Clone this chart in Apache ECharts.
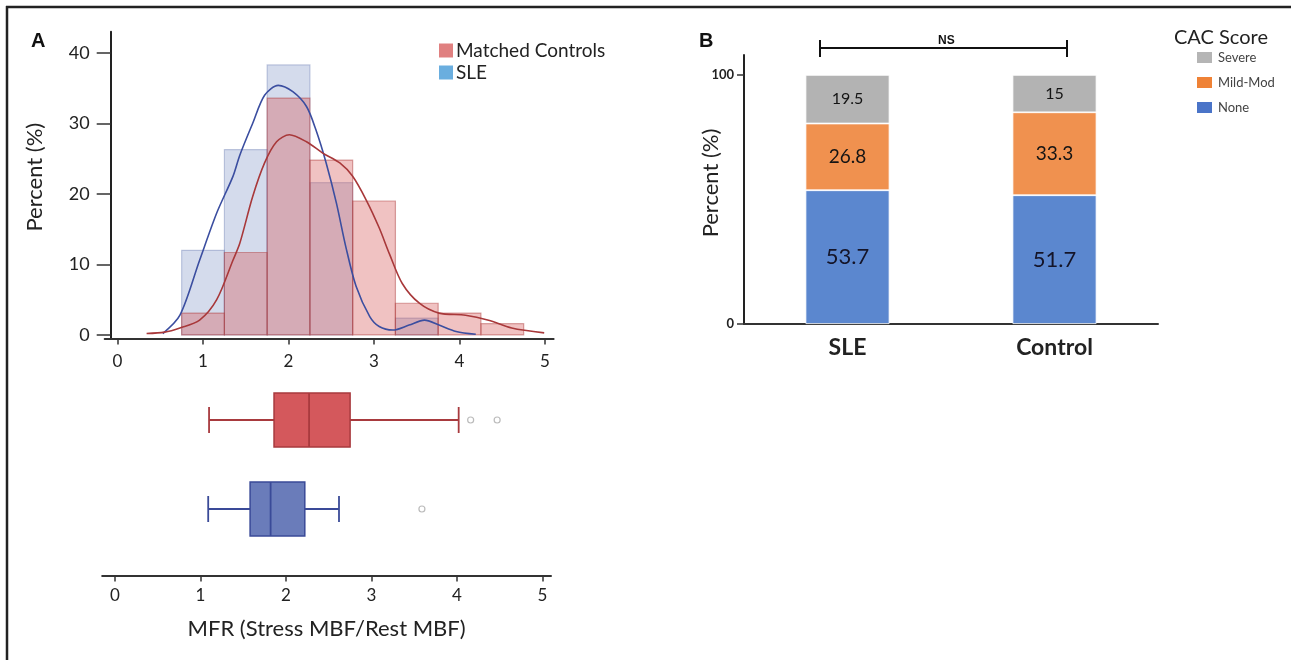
<!DOCTYPE html>
<html><head><meta charset="utf-8">
<script src="https://cdn.jsdelivr.net/npm/echarts@6/dist/echarts.min.js"></script>
<style>html,body{margin:0;padding:0;background:#fff}#c{width:1291px;height:660px}</style>
</head><body><div id="c"></div>
<script>
// ---------- Panel A data ----------
const binCenters = [1, 1.5, 2, 2.5, 3, 3.5, 4, 4.5];
const binWidth = 0.5;
const slePct  = [12.0, 26.3, 38.3, 21.6, 0, 2.4, 0, 0];
const ctrlPct = [3.1, 11.7, 33.6, 24.8, 19.0, 4.5, 3.1, 1.6];
const sleKdeX = [0.53, 0.73, 0.96, 1.16, 1.35, 1.43, 1.58, 1.72, 1.88, 2.05, 2.21, 2.32, 2.44, 2.56, 2.67, 2.79, 2.95, 3.06, 3.22, 3.41, 3.59, 3.76, 3.96, 4.19];
const sleKdeY = [0.2, 2.8, 10.6, 17.3, 22.5, 25.5, 30.0, 34.0, 35.4, 34.5, 32.4, 29.1, 24.4, 18.7, 12.5, 6.9, 2.6, 1.2, 0.7, 1.4, 2.1, 1.4, 0.5, 0.1];
const ctrlKdeX = [0.34, 0.55, 0.73, 0.96, 1.16, 1.35, 1.43, 1.58, 1.72, 1.86, 2.01, 2.21, 2.40, 2.60, 2.75, 2.91, 3.06, 3.18, 3.33, 3.53, 3.76, 4.07, 4.34, 4.61, 4.99];
const ctrlKdeY = [0.2, 0.4, 1.0, 2.1, 5.0, 10.6, 13.0, 19.6, 24.4, 27.4, 28.4, 27.4, 25.8, 24.4, 22.5, 19.1, 15.2, 11.5, 7.3, 4.5, 3.1, 2.8, 2.1, 1.0, 0.3];
const mfrTicks = [0, 1, 2, 3, 4, 5];
const pctTicks = [0, 10, 20, 30, 40];
const boxGroups = ['SLE', 'Matched Controls'];
// [min, Q1, median, Q3, max]
const sleBox  = [1.09, 1.58, 1.82, 2.22, 2.62];
const ctrlBox = [1.10, 1.86, 2.27, 2.75, 4.02];
const sleOutliers  = [3.59];
const ctrlOutliers = [4.16, 4.47];
// ---------- Panel B data ----------
const cacGroups = ['SLE', 'Control'];
const cacNone   = [53.7, 51.7];
const cacMild   = [26.8, 33.3];
const cacSevere = [19.5, 15];
const cacTicks  = [0, 100];

const FONT = 'Lato, "Open Sans", sans-serif';
const chart = echarts.init(document.getElementById('c'));

const histData = (arr) => binCenters.map((c, i) => [c, arr[i]]);
const kde = (xs, ys) => xs.map((x, i) => [x, ys[i]]);

function histRender(fill, stroke) {
  return function (params, api) {
    const c = api.value(0), h = api.value(1);
    if (!(h > 0)) return null;
    const p0 = api.coord([c - binWidth / 2, h]);
    const p1 = api.coord([c + binWidth / 2, 0]);
    return { type: 'rect', shape: { x: p0[0], y: p0[1], width: p1[0] - p0[0], height: p1[1] - p0[1] },
      style: { fill: fill, stroke: stroke, lineWidth: 1.2 } };
  };
}
const boxStyles = [
  { fill: '#6a7cba', stroke: '#3a4a98' },
  { fill: '#d4585c', stroke: '#a83a3e' }
];
function boxRender(params, api) {
  const cat = api.value(0);
  const v = [api.value(1), api.value(2), api.value(3), api.value(4), api.value(5)];
  const p = v.map(x => api.coord([x, cat]));
  const y = p[0][1], hh = 27, cap = 13;
  const st = boxStyles[cat];
  const ls = { stroke: st.stroke, lineWidth: 1.8 };
  return { type: 'group', children: [
    { type: 'line', shape: { x1: p[0][0], y1: y, x2: p[1][0], y2: y }, style: ls },
    { type: 'line', shape: { x1: p[3][0], y1: y, x2: p[4][0], y2: y }, style: ls },
    { type: 'line', shape: { x1: p[0][0], y1: y - cap, x2: p[0][0], y2: y + cap }, style: ls },
    { type: 'line', shape: { x1: p[4][0], y1: y - cap, x2: p[4][0], y2: y + cap }, style: ls },
    { type: 'rect', shape: { x: p[1][0], y: y - hh, width: p[3][0] - p[1][0], height: 2 * hh },
      style: { fill: st.fill, stroke: st.stroke, lineWidth: 1.5 } },
    { type: 'line', shape: { x1: p[2][0], y1: y - hh, x2: p[2][0], y2: y + hh }, style: ls }
  ]};
}

const axisTxt = { color: '#222', fontFamily: FONT };

chart.setOption({
  animation: false,
  textStyle: { fontFamily: FONT },
  title: [
    { text: 'A', left: 26, top: 26, textStyle: { fontSize: 20, fontWeight: 'bold', color: '#111', fontFamily: 'Liberation Sans' } },
    { text: 'B', left: 694, top: 26, textStyle: { fontSize: 20, fontWeight: 'bold', color: '#111', fontFamily: 'Liberation Sans' } },
    { text: 'CAC Score', left: 1169, top: 23, textStyle: { fontSize: 20, fontWeight: 'normal', color: '#222', fontFamily: FONT } },
    { text: 'NS', left: 933, top: 30, textStyle: { fontSize: 12, fontWeight: 'bold', color: '#111', fontFamily: 'Liberation Sans' } }
  ],
  legend: [
    { orient: 'vertical', left: 434, top: 36, itemWidth: 14, itemHeight: 14, itemGap: 3, icon: 'rect',
      textStyle: { fontSize: 19, color: '#222', fontFamily: FONT, padding: [0, 0, 0, -2] },
      data: [{ name: 'Matched Controls', itemStyle: { color: '#e08080' } },
             { name: 'SLE', itemStyle: { color: '#6aaedf' } }] },
    { orient: 'vertical', left: 1190, top: 45, itemWidth: 17, itemHeight: 13, itemGap: 10, icon: 'rect',
      textStyle: { fontSize: 13, color: '#444', fontFamily: FONT },
      data: [{ name: 'Severe', itemStyle: { color: '#b5b5b5' } },
             { name: 'Mild-Mod', itemStyle: { color: '#ef8236' } },
             { name: 'None', itemStyle: { color: '#4a74c8' } }] }
  ],
  grid: [
    { left: 104.7, top: 31.8, width: 448.9, height: 306.7 },
    { left: 102.2, top: 375.5, width: 448.8, height: 178 },
    { left: 744, top: 55, width: 414, height: 269 }
  ],
  xAxis: [
    { gridIndex: 0, type: 'value', min: -0.15, max: 5.1,
      axisLine: { show: true, onZero: false, lineStyle: { color: '#333', width: 2 } },
      axisTick: { show: true, customValues: mfrTicks, length: 6, lineStyle: { color: '#333', width: 1.5 } },
      axisLabel: { customValues: mfrTicks, margin: 15, fontSize: 17, ...axisTxt },
      splitLine: { show: false } },
    { gridIndex: 1, type: 'value', min: -0.15, max: 5.1, offset: 22,
      axisLine: { show: true, onZero: false, lineStyle: { color: '#333', width: 2 } },
      axisTick: { show: true, customValues: mfrTicks, length: 6, lineStyle: { color: '#333', width: 1.5 } },
      axisLabel: { customValues: mfrTicks, margin: 12, fontSize: 17, ...axisTxt },
      splitLine: { show: false },
      name: 'MFR (Stress MBF/Rest MBF)', nameLocation: 'middle', nameGap: 42, nameMoveOverlap: false,
      nameTextStyle: { fontSize: 22, ...axisTxt } },
    { gridIndex: 2, type: 'category', data: cacGroups,
      axisLine: { show: true, lineStyle: { color: '#333', width: 2 } },
      axisTick: { show: false },
      axisLabel: { margin: 12, fontSize: 23, fontWeight: 'bold', ...axisTxt } }
  ],
  yAxis: [
    { gridIndex: 0, type: 'value', min: -0.5, max: 43, offset: -6,
      axisLine: { show: true, onZero: false, lineStyle: { color: '#222', width: 2 } },
      axisTick: { show: true, customValues: pctTicks, length: 14, lineStyle: { color: '#333', width: 1.5 } },
      axisLabel: { customValues: pctTicks, margin: 21, fontSize: 18, ...axisTxt },
      splitLine: { show: false },
      name: 'Percent (%)', nameLocation: 'middle', nameGap: 65, nameMoveOverlap: false,
      nameTextStyle: { fontSize: 22, ...axisTxt, padding: [0, 0, 0, 16] } },
    { gridIndex: 1, type: 'category', data: boxGroups, show: false },
    { gridIndex: 2, type: 'value', min: 0, max: 108,
      axisLine: { show: true, onZero: false, lineStyle: { color: '#222', width: 2 } },
      axisTick: { show: true, customValues: cacTicks, length: 7, lineStyle: { color: '#333', width: 1.5 } },
      axisLabel: { customValues: cacTicks, margin: 10, fontSize: 13, fontWeight: 'bold', ...axisTxt },
      splitLine: { show: false },
      name: 'Percent (%)', nameLocation: 'middle', nameGap: 22, nameMoveOverlap: false,
      nameTextStyle: { fontSize: 22, ...axisTxt, padding: [0, 0, 0, 13] } }
  ],
  series: [
    { name: 'SLE', type: 'custom', xAxisIndex: 0, yAxisIndex: 0, z: 1,
      renderItem: histRender('rgba(100,125,185,0.28)', 'rgba(90,110,170,0.35)'),
      encode: { x: 0, y: 1 }, data: histData(slePct), itemStyle: { color: '#6aaedf' } },
    { name: 'Matched Controls', type: 'custom', xAxisIndex: 0, yAxisIndex: 0, z: 2,
      renderItem: histRender('rgba(215,95,95,0.38)', 'rgba(170,55,55,0.45)'),
      encode: { x: 0, y: 1 }, data: histData(ctrlPct), itemStyle: { color: '#e08080' } },
    { name: 'SLE density', type: 'line', xAxisIndex: 0, yAxisIndex: 0, z: 3, smooth: 0.3,
      showSymbol: false, lineStyle: { color: '#3b4ea0', width: 1.6 }, data: kde(sleKdeX, sleKdeY) },
    { name: 'Controls density', type: 'line', xAxisIndex: 0, yAxisIndex: 0, z: 4, smooth: 0.3,
      showSymbol: false, lineStyle: { color: '#a8383a', width: 1.6 }, data: kde(ctrlKdeX, ctrlKdeY) },
    { name: 'Box', type: 'custom', xAxisIndex: 1, yAxisIndex: 1, renderItem: boxRender,
      encode: { x: [1, 2, 3, 4, 5], y: 0 },
      data: [[0, ...sleBox], [1, ...ctrlBox]] },
    { name: 'Outliers', type: 'scatter', xAxisIndex: 1, yAxisIndex: 1, symbol: 'circle', symbolSize: 6,
      itemStyle: { color: '#fff', borderColor: '#aaa', borderWidth: 1.2 },
      data: [...sleOutliers.map(v => [v, 0]), ...ctrlOutliers.map(v => [v, 1])] },
    { name: 'None', type: 'bar', xAxisIndex: 2, yAxisIndex: 2, stack: 'cac', barWidth: 84,
      itemStyle: { color: '#5b87cf', borderColor: '#fff', borderWidth: 0.8 },
      label: { show: true, position: 'inside', fontSize: 22, color: '#141428', fontFamily: FONT },
      data: cacNone },
    { name: 'Mild-Mod', type: 'bar', xAxisIndex: 2, yAxisIndex: 2, stack: 'cac', barWidth: 84,
      itemStyle: { color: '#f0914f', borderColor: '#fff', borderWidth: 0.8 },
      label: { show: true, position: 'inside', fontSize: 19, color: '#141414', fontFamily: FONT },
      data: cacMild },
    { name: 'Severe', type: 'bar', xAxisIndex: 2, yAxisIndex: 2, stack: 'cac', barWidth: 84,
      itemStyle: { color: '#b3b3b3', borderColor: '#fff', borderWidth: 0.8 },
      label: { show: true, position: 'inside', fontSize: 16, color: '#141414', fontFamily: FONT },
      data: cacSevere }
  ],
  graphic: [
    { type: 'line', shape: { x1: 6, y1: 7, x2: 1291, y2: 7 }, style: { stroke: '#222', lineWidth: 2.5 } },
    { type: 'line', shape: { x1: 7, y1: 6, x2: 7, y2: 660 }, style: { stroke: '#222', lineWidth: 2.5 } },
    { type: 'line', shape: { x1: 820, y1: 48, x2: 1067, y2: 48 }, style: { stroke: '#111', lineWidth: 2 } },
    { type: 'line', shape: { x1: 820, y1: 40, x2: 820, y2: 57 }, style: { stroke: '#111', lineWidth: 2 } },
    { type: 'line', shape: { x1: 1067, y1: 40, x2: 1067, y2: 57 }, style: { stroke: '#111', lineWidth: 2 } }
  ]
});
</script></body></html>
